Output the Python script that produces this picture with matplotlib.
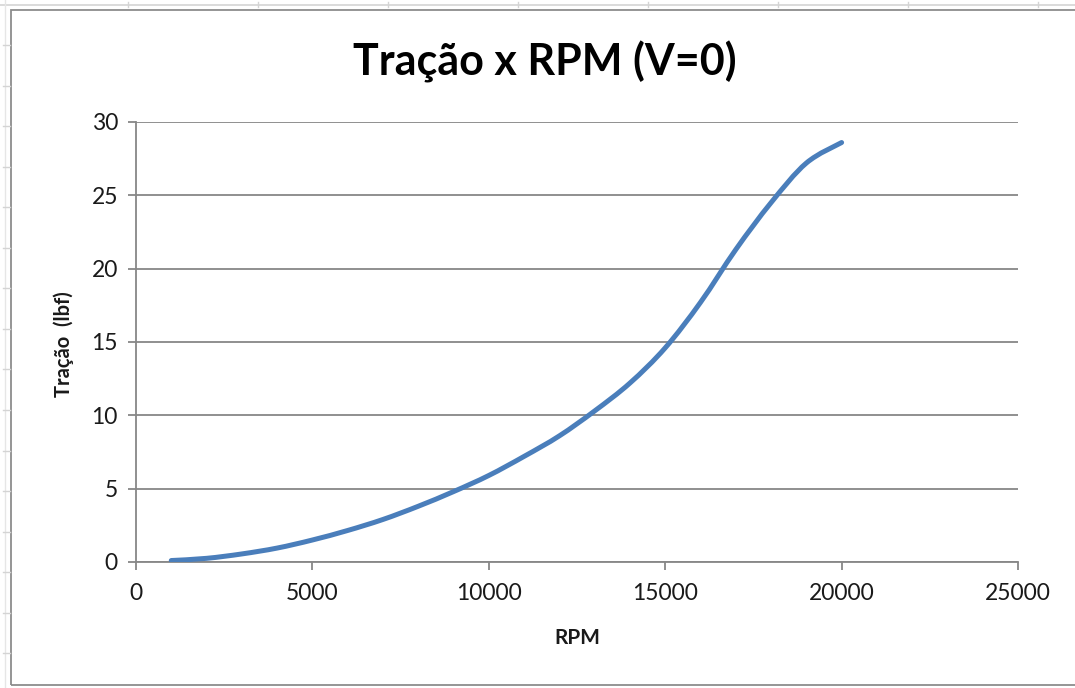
import matplotlib
matplotlib.use("Agg")
import matplotlib.pyplot as plt
from matplotlib.patches import Rectangle, PathPatch
from matplotlib.lines import Line2D
from matplotlib.path import Path

# Thrust measured on the static test stand (airspeed V = 0)
rpm = [1000, 2000, 3000, 4000, 5000, 6000, 7000, 8000, 9000, 10000,
       11000, 12000, 13000, 14000, 15000, 16000, 17000, 18000, 19000, 20000]
tracao_lbf = [0.1, 0.25, 0.55, 0.95, 1.5, 2.15, 2.9, 3.8, 4.8, 5.9,
              7.2, 8.6, 10.3, 12.2, 14.6, 17.7, 21.3, 24.5, 27.2, 28.6]

x_ticks = [0, 5000, 10000, 15000, 20000, 25000]
y_ticks = [0, 5, 10, 15, 20, 25, 30]

title = "Tração x RPM (V=0)"
x_label = "RPM"
y_label = "Tração  (lbf)"

W, H = 1075, 688
fig = plt.figure(figsize=(W / 100, H / 100), dpi=100)
fig.patch.set_facecolor("white")

plt.rcParams["font.family"] = ["Lato", "DejaVu Sans"]


def fx(px):
    return px / W


def fy(py):
    return 1 - py / H


def smooth_path(xs, ys):
    """Cubic Bezier path through every point (spreadsheet-style smoothed line)."""
    n = len(xs)
    verts = [(xs[0], ys[0])]
    codes = [Path.MOVETO]
    for i in range(n - 1):
        x0, y0 = xs[max(i - 1, 0)], ys[max(i - 1, 0)]
        x1, y1 = xs[i], ys[i]
        x2, y2 = xs[i + 1], ys[i + 1]
        x3, y3 = xs[min(i + 2, n - 1)], ys[min(i + 2, n - 1)]
        c1 = (x1 + (x2 - x0) / 6, y1 + (y2 - y0) / 6)
        c2 = (x2 - (x3 - x1) / 6, y2 - (y3 - y1) / 6)
        verts += [c1, c2, (x2, y2)]
        codes += [Path.CURVE4] * 3
    return Path(verts, codes)


# faint worksheet grid peeking around the chart frame
sheet = "#d4d4d4"
fig.add_artist(Line2D([fx(0), fx(W)], [fy(5), fy(5)], color=sheet, lw=1.2))
for cx in [128, 258, 388, 518, 648, 778, 908, 1038]:
    fig.add_artist(Line2D([fx(cx), fx(cx)], [fy(2), fy(7)], color=sheet, lw=1.0))
fig.add_artist(Line2D([fx(5), fx(5)], [fy(0), fy(H)], color="#e6e6e6", lw=1.0))
for k in range(17):
    ry = 45 + 40.55 * k
    fig.add_artist(Line2D([fx(3), fx(10)], [fy(ry), fy(ry)], color=sheet, lw=1.0))

# chart frame
fig.add_artist(Rectangle((fx(11), fy(685)), fx(W + 20) - fx(11), fy(10) - fy(685),
                         fill=False, edgecolor="#8c8c8c", lw=1.3))

ax = fig.add_axes([fx(136), fy(562), fx(1018) - fx(136), fy(122) - fy(562)])
ax.set_facecolor("white")

ax.add_patch(PathPatch(smooth_path(rpm, tracao_lbf), facecolor="none",
                       edgecolor="#4a7ebb", lw=3.6, capstyle="round",
                       joinstyle="round", zorder=3))

ax.set_xlim(0, 25000)
ax.set_ylim(0, 30)
ax.set_xticks(x_ticks)
ax.set_yticks(y_ticks)
ax.set_xticklabels([str(v) for v in x_ticks])
ax.set_yticklabels([str(v) for v in y_ticks])

grid_c = "#878787"
ax.yaxis.grid(True, color=grid_c, lw=1.3)
ax.xaxis.grid(False)
ax.set_axisbelow(True)

for side in ["top", "right"]:
    ax.spines[side].set_visible(False)
for side in ["left", "bottom"]:
    ax.spines[side].set_color(grid_c)
    ax.spines[side].set_linewidth(1.3)

ax.tick_params(axis="both", direction="out", length=6, width=1.3, color=grid_c,
               labelsize=16.5, labelcolor="#1a1a1a")
ax.tick_params(axis="x", pad=9)
ax.tick_params(axis="y", pad=7)

fig.text(fx(545), fy(62), title, ha="center", va="center",
         fontsize=31, fontweight="bold", color="black")
fig.text(fx(577), fy(638), x_label, ha="center", va="center",
         fontsize=15, fontweight="bold", color="#1a1a1a")
fig.text(fx(64), fy(344), y_label, ha="center", va="center", rotation=90,
         fontsize=14.5, fontweight="bold", color="#1a1a1a")

fig.savefig("out.png", dpi=100, facecolor="white")
